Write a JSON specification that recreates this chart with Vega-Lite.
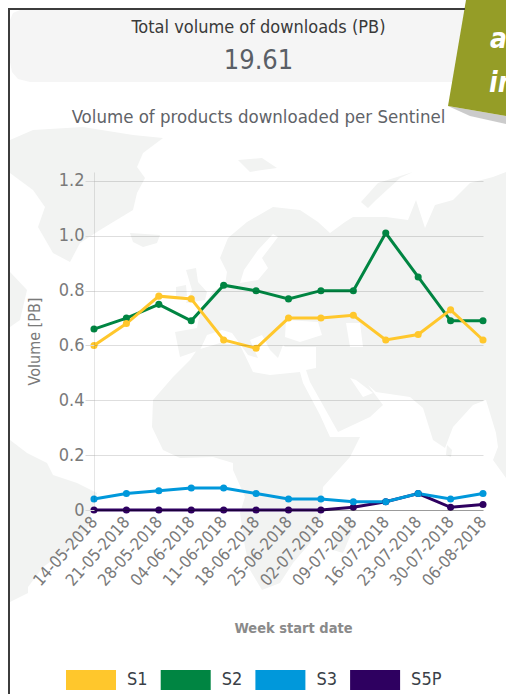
{"$schema":"https://vega.github.io/schema/vega-lite/v6.json","width":399,"height":338,"autosize":{"type":"none"},"padding":{"left":94,"top":172,"right":13,"bottom":184},"background":"white","view":{"stroke":null},"config":{"font":"DejaVu Sans Condensed"},
"title":{"text":"Total volume of downloads (PB)","subtitle":"19.61","frame":"group","anchor":"middle","dx":-35,"offset":-74,"fontSize":18,"fontWeight":"normal","color":"#3a3a3a","font":"DejaVu Sans Condensed","subtitleFont":"DejaVu Sans Condensed","subtitleFontSize":27,"subtitleColor":"#5a5f66","subtitlePadding":11},
"projection":{"type":"identity","scale":1,"translate":[-94,-172]},
"datasets":{"series":[
{"week":"14-05-2018","sentinel":"S5P","pb":0},{"week":"21-05-2018","sentinel":"S5P","pb":0},{"week":"28-05-2018","sentinel":"S5P","pb":0},{"week":"04-06-2018","sentinel":"S5P","pb":0},{"week":"11-06-2018","sentinel":"S5P","pb":0},{"week":"18-06-2018","sentinel":"S5P","pb":0},{"week":"25-06-2018","sentinel":"S5P","pb":0},{"week":"02-07-2018","sentinel":"S5P","pb":0},{"week":"09-07-2018","sentinel":"S5P","pb":0.01},{"week":"16-07-2018","sentinel":"S5P","pb":0.03},{"week":"23-07-2018","sentinel":"S5P","pb":0.06},{"week":"30-07-2018","sentinel":"S5P","pb":0.01},{"week":"06-08-2018","sentinel":"S5P","pb":0.02},
{"week":"14-05-2018","sentinel":"S3","pb":0.04},{"week":"21-05-2018","sentinel":"S3","pb":0.06},{"week":"28-05-2018","sentinel":"S3","pb":0.07},{"week":"04-06-2018","sentinel":"S3","pb":0.08},{"week":"11-06-2018","sentinel":"S3","pb":0.08},{"week":"18-06-2018","sentinel":"S3","pb":0.06},{"week":"25-06-2018","sentinel":"S3","pb":0.04},{"week":"02-07-2018","sentinel":"S3","pb":0.04},{"week":"09-07-2018","sentinel":"S3","pb":0.03},{"week":"16-07-2018","sentinel":"S3","pb":0.03},{"week":"23-07-2018","sentinel":"S3","pb":0.06},{"week":"30-07-2018","sentinel":"S3","pb":0.04},{"week":"06-08-2018","sentinel":"S3","pb":0.06},
{"week":"14-05-2018","sentinel":"S2","pb":0.66},{"week":"21-05-2018","sentinel":"S2","pb":0.70},{"week":"28-05-2018","sentinel":"S2","pb":0.75},{"week":"04-06-2018","sentinel":"S2","pb":0.69},{"week":"11-06-2018","sentinel":"S2","pb":0.82},{"week":"18-06-2018","sentinel":"S2","pb":0.80},{"week":"25-06-2018","sentinel":"S2","pb":0.77},{"week":"02-07-2018","sentinel":"S2","pb":0.80},{"week":"09-07-2018","sentinel":"S2","pb":0.80},{"week":"16-07-2018","sentinel":"S2","pb":1.01},{"week":"23-07-2018","sentinel":"S2","pb":0.85},{"week":"30-07-2018","sentinel":"S2","pb":0.69},{"week":"06-08-2018","sentinel":"S2","pb":0.69},
{"week":"14-05-2018","sentinel":"S1","pb":0.60},{"week":"21-05-2018","sentinel":"S1","pb":0.68},{"week":"28-05-2018","sentinel":"S1","pb":0.78},{"week":"04-06-2018","sentinel":"S1","pb":0.77},{"week":"11-06-2018","sentinel":"S1","pb":0.62},{"week":"18-06-2018","sentinel":"S1","pb":0.59},{"week":"25-06-2018","sentinel":"S1","pb":0.70},{"week":"02-07-2018","sentinel":"S1","pb":0.70},{"week":"09-07-2018","sentinel":"S1","pb":0.71},{"week":"16-07-2018","sentinel":"S1","pb":0.62},{"week":"23-07-2018","sentinel":"S1","pb":0.64},{"week":"30-07-2018","sentinel":"S1","pb":0.73},{"week":"06-08-2018","sentinel":"S1","pb":0.62}
]},
"layer":[
{"data":{"values":[{"type":"Feature","properties":{"name":"Summary panel"},"geometry":{"type":"Polygon","coordinates":[[[20,10],[470,10],[470,82],[30,82],[18,79],[12,72],[10,62],[10,20],[13,13],[20,10]]]}}]},"mark":{"type":"geoshape","fill":"#f5f5f5","stroke":null,"clip":false}},
{"data":{"values":[
{"type":"Feature","properties":{"name":"Greenland"},"geometry":{"type":"Polygon","coordinates":[[[10,140],[33,130],[83,127],[133,135],[163,138],[143,153],[137,167],[145,178],[137,193],[133,210],[100,230],[80,243],[70,262],[53,253],[38,227],[45,207],[33,190],[10,173],[10,140]]]}},
{"type":"Feature","properties":{"name":"Iceland"},"geometry":{"type":"Polygon","coordinates":[[[130,233],[160,235],[157,243],[143,247],[133,242],[130,233]]]}},
{"type":"Feature","properties":{"name":"Canada"},"geometry":{"type":"Polygon","coordinates":[[[10,272],[27,290],[20,320],[10,327],[10,272]]]}},
{"type":"Feature","properties":{"name":"Britain"},"geometry":{"type":"Polygon","coordinates":[[[186,270],[196,268],[198,282],[207,292],[205,300],[186,303],[192,290],[186,270]]]}},
{"type":"Feature","properties":{"name":"Ireland"},"geometry":{"type":"Polygon","coordinates":[[[176,287],[186,285],[187,296],[176,298],[176,287]]]}},
{"type":"Feature","properties":{"name":"Eurasia"},"geometry":{"type":"Polygon","coordinates":[[[175,332],[197,328],[200,312],[213,291],[225,285],[227,272],[220,258],[228,238],[247,222],[273,207],[300,210],[318,222],[330,233],[345,222],[353,217],[386,217],[408,220],[416,200],[425,228],[435,205],[453,200],[470,183],[493,177],[506,172],[506,478],[493,460],[498,447],[496,433],[486,400],[473,405],[453,427],[445,448],[433,440],[423,408],[410,397],[376,392],[368,385],[383,405],[370,417],[338,432],[310,382],[306,370],[316,368],[316,347],[285,347],[283,345],[278,358],[270,350],[262,335],[250,340],[258,358],[248,355],[232,333],[222,330],[207,335],[200,350],[180,357],[175,332]]]}},
{"type":"Feature","properties":{"name":"Novaya Zemlya"},"geometry":{"type":"Polygon","coordinates":[[[361,202],[378,183],[413,172],[400,178],[376,200],[368,208],[361,202]]]}},
{"type":"Feature","properties":{"name":"Svalbard"},"geometry":{"type":"Polygon","coordinates":[[[238,160],[262,158],[277,168],[262,170],[250,172],[238,160]]]}},
{"type":"Feature","properties":{"name":"Africa"},"geometry":{"type":"Polygon","coordinates":[[[197,350],[220,343],[240,345],[253,372],[270,375],[300,372],[303,383],[320,415],[330,437],[360,437],[350,457],[323,487],[321,517],[310,543],[293,563],[280,583],[262,590],[250,570],[245,547],[240,513],[245,497],[233,470],[233,463],[213,457],[180,458],[163,450],[152,427],[153,400],[173,377],[190,360],[197,350]]]}},
{"type":"Feature","properties":{"name":"Madagascar"},"geometry":{"type":"Polygon","coordinates":[[[350,518],[356,522],[343,553],[333,550],[335,535],[350,518]]]}},
{"type":"Feature","properties":{"name":"Sri Lanka"},"geometry":{"type":"Polygon","coordinates":[[[447,445],[452,450],[451,457],[446,455],[447,445]]]}},
{"type":"Feature","properties":{"name":"South America"},"geometry":{"type":"Polygon","coordinates":[[[10,440],[27,453],[47,463],[53,475],[77,483],[97,493],[93,507],[87,530],[67,550],[43,567],[28,587],[28,593],[10,602],[10,440]]]}}
]},"mark":{"type":"geoshape","fill":"#f2f3f2","stroke":null,"clip":false}},
{"data":{"values":[
{"type":"Feature","properties":{"name":"Baltic"},"geometry":{"type":"Polygon","coordinates":[[[273,234],[278,237],[262,258],[268,268],[258,280],[240,283],[244,270],[258,250],[273,234]]]}},
{"type":"Feature","properties":{"name":"Black Sea"},"geometry":{"type":"Polygon","coordinates":[[[286,320],[318,322],[322,335],[300,342],[285,337],[286,320]]]}},
{"type":"Feature","properties":{"name":"Caspian"},"geometry":{"type":"Polygon","coordinates":[[[346,323],[360,323],[363,347],[350,347],[346,323]]]}},
{"type":"Feature","properties":{"name":"Persian Gulf"},"geometry":{"type":"Polygon","coordinates":[[[350,378],[356,380],[373,393],[363,397],[350,378]]]}}
]},"mark":{"type":"geoshape","fill":"#ffffff","stroke":null,"clip":false}},
{"data":{"values":[{"type":"Feature","properties":{"name":"Banner shadow"},"geometry":{"type":"Polygon","coordinates":[[[448,106],[506,116],[506,124],[470,116],[448,106]]]}}]},"mark":{"type":"geoshape","fill":"#b5b5b5","stroke":null,"opacity":0.7,"clip":false}},
{"data":{"values":[{"type":"Feature","properties":{"name":"Banner"},"geometry":{"type":"Polygon","coordinates":[[[466,0],[506,0],[506,116],[448,106],[466,0]]]}}]},"mark":{"type":"geoshape","fill":"#959d27","stroke":null,"clip":false}},
{"data":{"values":[{"type":"Feature","properties":{"name":"Frame"},"geometry":{"type":"Polygon","coordinates":[[[8,8],[465,8],[465,10],[10,10],[10,694],[8,694],[8,8]]]}}]},"mark":{"type":"geoshape","fill":"#3c3c3c","stroke":null,"clip":false}},
{"data":{"values":[{"t":"a","lon":490,"lat":48},{"t":"in","lon":489,"lat":92}]},"mark":{"type":"text","clip":false,"align":"left","baseline":"alphabetic","fontSize":28,"fontWeight":"bold","fontStyle":"italic","color":"#ffffff","angle":0},"encoding":{"longitude":{"field":"lon","type":"quantitative"},"latitude":{"field":"lat","type":"quantitative"},"text":{"field":"t"}}},
{"data":{"name":"series"},"mark":{"type":"point","opacity":0},"encoding":{"x":{"field":"week","type":"ordinal","sort":null,"axis":{"orient":"top","zindex":1,"domain":false,"ticks":false,"labels":false,"grid":false,"title":"Volume of products downloaded per Sentinel","titleFontSize":18.5,"titleFontWeight":"normal","titleColor":"#5f6368","titleX":164,"titleY":-46,"titleAnchor":"middle"}}}},
{"data":{"name":"series"},"mark":{"type":"line","strokeWidth":3},"encoding":{
"x":{"field":"week","type":"ordinal","sort":null,"scale":{"type":"point","range":[0,389],"padding":0},"axis":{"zindex":1,"title":"Week start date","titleFontSize":14.5,"titleFontWeight":"bold","titleColor":"#8a8a8a","titleX":199,"titleY":111,"titleAnchor":"middle","labelAngle":-48,"labelAlign":"right","labelBaseline":"middle","labelFontSize":16.5,"labelColor":"#7a7a7a","labelPadding":9,"ticks":false,"domainColor":"rgba(0,0,0,0.3)","domainWidth":1,"grid":false}},
"y":{"field":"pb","type":"quantitative","scale":{"domain":[0,1.2328],"nice":false},"axis":{"zindex":1,"values":[0,0.2,0.4,0.6,0.8,1,1.2],"labelExpr":"datum.value==0?'0':format(datum.value,'.1f')","labelFontSize":18,"labelColor":"#7a7a7a","labelPadding":1,"tickColor":"#d8d8d8","tickSize":9,"domainColor":"rgba(0,0,0,0.1)","gridColor":"rgba(0,0,0,0.13)","title":"Volume [PB]","titleFontSize":16,"titleFontWeight":"normal","titleColor":"#7a7a7a","titleX":-52,"titleY":169}},
"color":{"field":"sentinel","type":"nominal","sort":["S1","S2","S3","S5P"],"scale":{"domain":["S1","S2","S3","S5P"],"range":["#ffc72c","#008542","#0098db","#2e0060"]},"legend":{"orient":"none","legendX":-28,"legendY":483,"direction":"horizontal","title":null,"symbolType":"M-1,-0.4H1V0.4H-1Z","symbolSize":2500,"symbolStrokeWidth":0,"labelFontSize":18,"labelColor":"#3a3f47","labelOffset":11,"columnPadding":12.7,"symbolOpacity":1}}}},
{"data":{"name":"series"},"mark":{"type":"point","filled":true,"size":50,"opacity":1},"encoding":{
"x":{"field":"week","type":"ordinal","sort":null,"axis":null},
"y":{"field":"pb","type":"quantitative"},
"color":{"field":"sentinel","type":"nominal","sort":["S1","S2","S3","S5P"]}}}
],
"resolve":{"axis":{"x":"independent"}}}
